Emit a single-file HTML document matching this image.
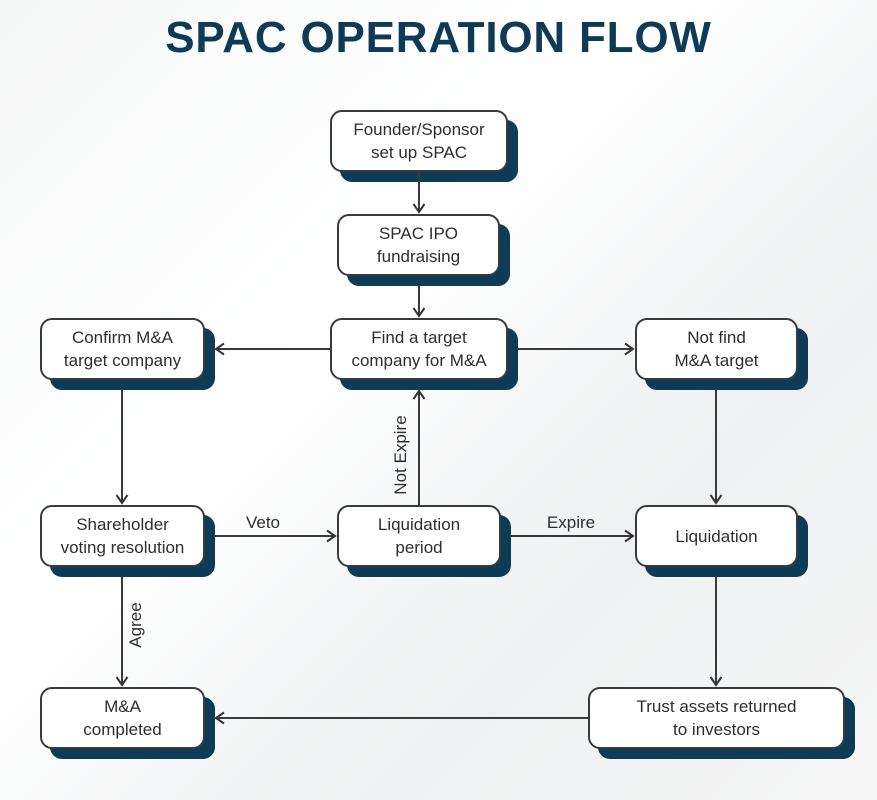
<!DOCTYPE html>
<html><head><style>
body{margin:0;width:877px;height:800px;overflow:hidden;background:linear-gradient(135deg,#f6f8f7 0%,#ffffff 40%,#eef0f1 70%,#f7f7f7 100%);font-family:"Liberation Sans",sans-serif;position:relative}
h1{position:absolute;top:13px;left:0;width:877px;text-align:center;margin:0;font-size:44px;font-weight:900;color:#0e3a55;letter-spacing:0.8px}
.b{position:absolute;background:#fff;border:2px solid #3a3a3a;border-radius:12px;box-shadow:10px 10px 0 #0d3d56;display:flex;align-items:center;justify-content:center;text-align:center;font-size:17px;line-height:23px;color:#2e2e2e;box-sizing:border-box}
svg{position:absolute;left:0;top:0;z-index:2}
</style></head><body>
<h1>SPAC OPERATION FLOW</h1>
<svg width="877" height="800">
<defs><marker id="a" markerWidth="14" markerHeight="14" refX="11" refY="7" orient="auto" markerUnits="userSpaceOnUse"><path d="M3,1.5 L11,7 L3,12.5" fill="none" stroke="#333" stroke-width="2"/></marker></defs>
<g stroke="#3a3a3a" stroke-width="2" fill="none" marker-end="url(#a)">
<line x1="419" y1="172" x2="419" y2="212"/>
<line x1="419" y1="286" x2="419" y2="316"/>
<line x1="330" y1="349" x2="216" y2="349"/>
<line x1="518" y1="349" x2="633" y2="349"/>
<line x1="122" y1="390" x2="122" y2="503"/>
<line x1="716" y1="390" x2="716" y2="503"/>
<line x1="419" y1="505" x2="419" y2="391"/>
<line x1="215" y1="536" x2="335" y2="536"/>
<line x1="511" y1="536" x2="633" y2="536"/>
<line x1="122" y1="577" x2="122" y2="685"/>
<line x1="716" y1="577" x2="716" y2="685"/>
<line x1="588" y1="718" x2="216" y2="718"/>
</g>
<g font-family="Liberation Sans,sans-serif" font-size="17" fill="#2e2e2e">
<text x="263" y="528" text-anchor="middle">Veto</text>
<text x="571" y="528" text-anchor="middle">Expire</text>
<text transform="translate(406,455) rotate(-90)" text-anchor="middle">Not Expire</text>
<text transform="translate(141,625) rotate(-90)" text-anchor="middle">Agree</text>
</g>
</svg>
<div class="b" style="left:330px;top:110px;width:178px;height:62px">Founder/Sponsor<br>set up SPAC</div>
<div class="b" style="left:337px;top:214px;width:163px;height:62px">SPAC IPO<br>fundraising</div>
<div class="b" style="left:330px;top:318px;width:178px;height:62px">Find a target<br>company for M&amp;A</div>
<div class="b" style="left:40px;top:318px;width:165px;height:62px">Confirm M&amp;A<br>target company</div>
<div class="b" style="left:635px;top:318px;width:163px;height:62px">Not find<br>M&amp;A target</div>
<div class="b" style="left:40px;top:505px;width:165px;height:62px">Shareholder<br>voting resolution</div>
<div class="b" style="left:337px;top:505px;width:164px;height:62px">Liquidation<br>period</div>
<div class="b" style="left:635px;top:505px;width:163px;height:62px">Liquidation</div>
<div class="b" style="left:40px;top:687px;width:165px;height:62px">M&amp;A<br>completed</div>
<div class="b" style="left:588px;top:687px;width:257px;height:62px">Trust assets returned<br>to investors</div>
</body></html>
